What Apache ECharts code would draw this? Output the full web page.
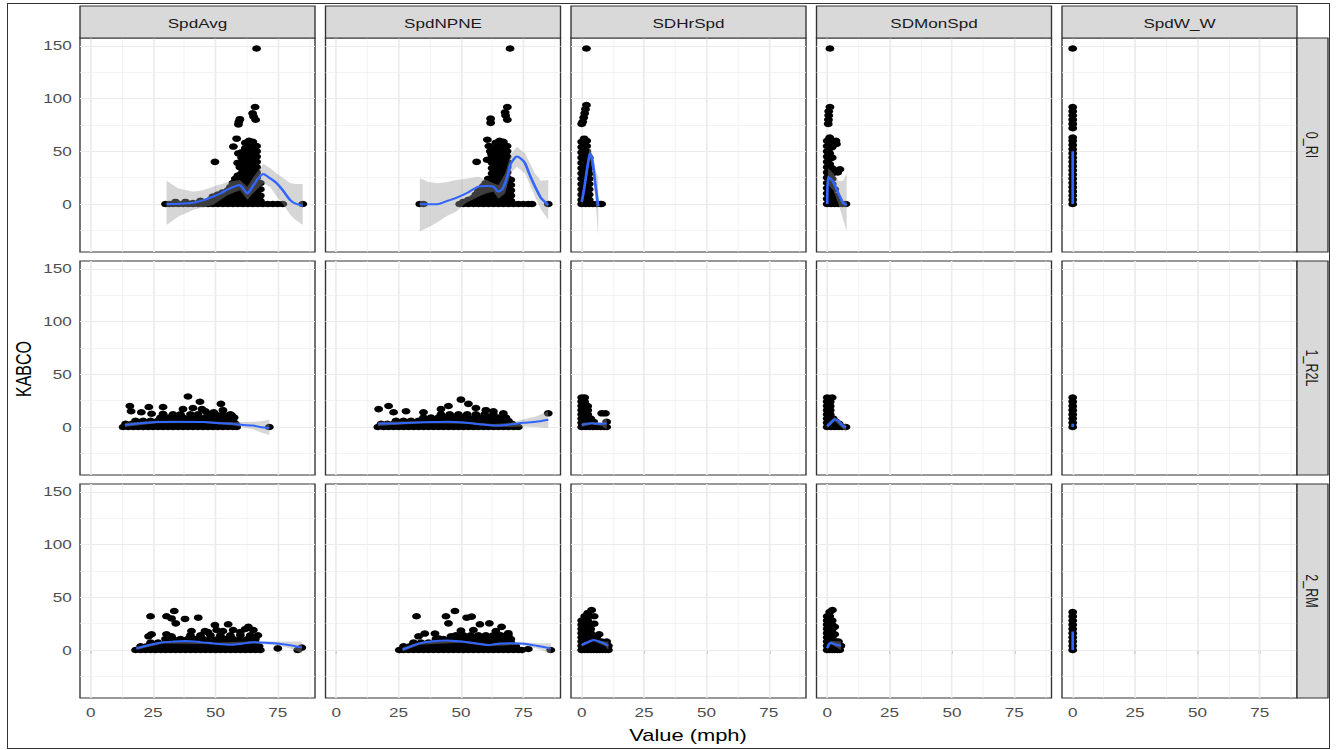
<!DOCTYPE html>
<html><head><meta charset="utf-8">
<script src="https://cdn.jsdelivr.net/npm/echarts@6/dist/echarts.min.js"></script>
<style>
html,body{margin:0;padding:0;background:#fff;}
#wrap{position:relative;width:1341px;height:750px;overflow:hidden;background:#fff}
#chart{position:absolute;left:0;top:0;width:980px;height:750px;transform:scaleX(1.368367);transform-origin:0 0;}
#frame{position:absolute;left:7px;top:3px;width:1321px;height:744px;border:1px solid #333;pointer-events:none}
</style></head><body>
<div id="wrap"><div id="chart"></div><div id="frame"></div></div>
<script>
const colLabels = ['SpdAvg','SpdNPNE','SDHrSpd','SDMonSpd','SpdW_W'];
const rowLabels = ['0_RI','1_R2L','2_RM'];
const xTicks = [0,25,50,75];
const yTicks = [0,50,100,150];
const xMinor = [12.5,37.5,62.5,87.5];
const yMinor = [-25,25,75,125];
const xRange = [-4.3,89.9];
const yRange = [-45.5,157.5];

// ---------- row 0_RI ----------
const ri_SpdAvg_pts = [
[30,0],[31.5,0],[33,0],[35,0],[37,0],[39,0],[41,0],[43,0],[45,0],[47,0],[49,0],[51,0],[53,0],[55,0],[57,0],[59,0],[61,0],[63,0],[65,0],[67,0],[69,0],[71,0],[73,0],[75,0],[77,0],[85,0],
[34,2],[38,2],[41,1],[44,3],[46,2],[48,4],[49,7],[50,3],[51,9],[52,5],[53,11],[54,3],[54,8],[55,13],[55,5],[56,16],[56,9],[57,3],[57,12],[57,20],[58,7],[58,16],[58,24],[59,4],[59,11],[59,19],[59,27],
[60.5,4],[60.5,9],[60.5,14],[60.5,19],[60.5,24],[60.5,29],[60.5,34],[60.5,39],[60.5,44],[60.5,49],
[62,3],[62,8],[62,13],[62,18],[62,23],[62,28],[62,33],[62,38],[62,43],[62,48],[62,53],[62,58],
[63.5,5],[63.5,10],[63.5,15],[63.5,20],[63.5,25],[63.5,30],[63.5,35],[63.5,40],[63.5,45],[63.5,50],[63.5,55],[63.5,60],
[65,4],[65,9],[65,14],[65,19],[65,24],[65,29],[65,34],[65,39],[65,44],[65,49],[65,54],[65,59],
[66.5,5],[66.5,10],[66.5,15],[66.5,20],[66.5,25],[66.5,30],[66.5,35],[66.5,40],[66.5,45],[66.5,50],[66.5,55],
[68,3],[68,8],[68,14],[68,20],
[57.2,54.5],[58.5,62],[59.2,48],[59.8,35],[58.9,39],[49.8,40],
[66.5,147.5],[65.9,92],[64.9,86],[65.3,83],[66.1,80],[59.8,80.5],[59.4,78],[59.2,75.5]
];
const ri_SpdAvg_fit = [[30.4,0],[35,0.3],[41,1.2],[45,3.5],[49,7],[52,10],[55,14],[58,17],[59.8,18],[61,15],[62.8,10],[65,17],[67,24],[69.2,28.5],[71,26],[72.8,23],[74.6,19.6],[77,13],[79.9,3.8],[82,0.5],[85,-1.6]];
const ri_SpdAvg_band = [[30.4,-20,22],[35,-12,15],[41,-5.7,11.7],[45,-3,13],[49,-1,16.5],[55,8.5,21],[59.8,13,22.8],[62.8,4,16.5],[65,10,25],[69.2,19.6,38],[72,16,34],[74.6,7,29],[77,0,25],[79.9,-10,20],[82,-15,19],[85,-20,19]];

const ri_SpdNPNE_pts = [
[33.5,0],[35,0],[49.5,0],[51,0],[53,0],[55,0],[57,0],[59,0],[61,0],[63,0],[65,0],[67,0],[69,0],[71,0],[73,0],[75,0],[77,0],[78.5,0],[85,0],
[51,2],[53,4],[54,2],[55,6],[56,3],[56,9],[57,5],[57,12],[58,2],[58,8],[58,14],[59,5],[59,11],[59,17],[60,3],[60,8],[60,14],[60,20],[61,6],[61,12],[61,18],[61,24],
[62.5,4],[62.5,9],[62.5,14],[62.5,19],[62.5,24],[62.5,29],[62.5,34],[62.5,39],[62.5,44],
[64,3],[64,8],[64,13],[64,18],[64,23],[64,28],[64,33],[64,38],[64,43],[64,48],[64,53],[64,58],
[65.5,5],[65.5,10],[65.5,15],[65.5,20],[65.5,25],[65.5,30],[65.5,35],[65.5,40],[65.5,45],[65.5,50],[65.5,55],[65.5,60],
[67,4],[67,9],[67,14],[67,19],[67,24],[67,29],[67,34],[67,39],[67,44],[67,49],[67,54],[67,59],
[68.5,5],[68.5,10],[68.5,15],[68.5,20],[68.5,25],[68.5,30],[68.5,35],[68.5,40],[68.5,45],[68.5,50],[68.5,55],
[70,3],[70,8],[70,13],[70,18],[70,23],
[60.6,61],[61.2,55],[62.3,47],[61.8,50],[56.3,40],[60.5,42],
[69.7,147.5],[68.6,92],[67.7,87],[67.9,84],[68.6,80],[61.9,81],[61.9,77]
];
const ri_SpdNPNE_fit = [[33.5,0],[37,-0.3],[40.9,0],[44,2.5],[47.6,5.4],[52,10],[57,16.5],[60,17],[63,16.5],[65,11.7],[66.5,14],[67.7,19.6],[69,30],[70,38.6],[72.4,45],[74,43],[75.7,38.6],[77.5,28],[79.7,16.5],[82,6],[85,-1]];
const ri_SpdNPNE_band = [[33.5,-26,24.4],[37,-22,21],[40.9,-16.8,19.6],[44.5,-11,21],[48,-7.3,22.8],[52,1,24],[57,7,26],[60,10,23],[63,11.7,19.6],[65,5,18],[67.7,10,29],[70,30,47],[72.4,35.4,54.4],[75.7,29,48],[79.7,7,29],[82,-5,22],[85,-15,22.8]];

const ri_SDHrSpd_pts = [
[0,0],[1.5,0],[3,0],[4.5,0],[6,0],[7.5,0],[8,0],
[0,4],[0,9],[0,14],[0,19],[0,24],[0,29],[0,34],[0,39],[0,44],[0,49],[0,54],[0,59],
[1,3],[1,8],[1,13],[1,18],[1,23],[1,28],[1,33],[1,38],[1,43],[1,48],[1,53],[1,58],[1,62],
[2,5],[2,10],[2,15],[2,20],[2,25],[2,30],[2,35],[2,40],[2,45],[2,50],[2,55],[2,60],
[3,4],[3,9],[3,14],[3,19],[3,24],[3,29],[3,34],[3,39],[3,44],
[1.9,147.5],[1.9,94],[1.5,90],[1.2,86],[0.8,82],[0.4,78],[0,76]
];
const ri_SDHrSpd_fit = [[0,2],[1,15],[2,31],[3,45],[3.5,48],[4.5,38],[5.5,18],[6.6,-2]];
const ri_SDHrSpd_band = [[0,-3,6],[1,10,20],[2,25,37],[3,40,52],[3.5,42,55],[4.5,28,46],[5.5,5,32],[6.6,-31,26]];

const ri_SDMonSpd_pts = [
[0,0],[1.5,0],[3,0],[4.5,0],[6,0],[7.5,0],
[0,5],[0,10],[0,15],[0,20],[0,25],[0,30],[0,35],[0,40],[0,45],[0,50],[0,55],[0,60],
[1,3],[1,8],[1,13],[1,18],[1,23],[1,28],[1,33],[1,38],[1,43],[1,48],[1,53],[1,58],[1,63],
[2,4],[2,9],[2,14],[2,19],[2,24],[2,29],[2,34],[2,44],[2,54],[2,59],
[3,3],[3,8],[3,14],[3.5,60],[3.7,57],[5.1,33],[4.2,30],[4,5],
[1.1,147.5],[1.1,92],[0.6,88],[0.6,84],[0.5,80],[0.4,76]
];
const ri_SDMonSpd_fit = [[0,0],[0.4,26],[2.4,21],[4.5,10],[6.4,1],[7.8,-1]];
const ri_SDMonSpd_band = [[0,-5,6],[0.4,18,34],[2.4,13,29],[4.5,0,22],[6.4,-15,22],[7.8,-26,29]];

const ri_SpdW_W_pts = [
[0,0],[0,4],[0,8],[0,12],[0,16],[0,20],[0,24],[0,28],[0,32],[0,36],[0,40],[0,44],[0,48],[0,52],[0,56],[0,60],[0,63],
[0,72],[0,76],[0,80],[0,84],[0,88],[0,92],[0,147.5]
];
const ri_SpdW_W_fit = [[0,0],[0,50]];
const ri_SpdW_W_band = [];

// ---------- row 1_R2L ----------
const r2l_SpdAvg_pts = [
[13,0],[15,0],[17,0],[19,0],[21,0],[23,0],[25,0],[27,0],[29,0],[31,0],[33,0],[35,0],[37,0],[39,0],[41,0],[43,0],[45,0],[47,0],[49,0],[51,0],[53,0],[55,0],[57,0],[58.5,0],[71.6,0],
[14,3],[16.5,3],[19,3],[21.5,3],[24,3],[26.5,3],[29,3],[31.5,3],[34,3],[36.5,3],[39,3],[41.5,3],[44,3],[46.5,3],[49,3],[51.5,3],[54,3],[56.5,3],[58,3],
[18,6],[21,6],[24,6],[27,6],[30,6],[33,6],[36,6],[39,6],[42,6],[45,6],[48,6],[51,6],[54,6],[57,6],
[28,9],[31,9],[34,9],[37,9],[40,9],[43,9],[46,9],[49,9],[52,9],[55,9],[57.5,9],
[33,12],[36,12],[40,12],[43,12],[47,12],[50,12],[53,12],[56,12],
[15.7,20],[16.2,15],[20.3,14],[23.3,19],[24.4,12.6],[29,19],[29,12.6],[37,17],[39,29],[41,18],[43.8,24],[44.6,17],[52.2,22],[53,16],[49.3,14],[46,15],[56.5,11]
];
const r2l_SpdAvg_fit = [[13.7,2],[20,3.5],[26.4,4.7],[35,5],[45.4,4.7],[52,3.5],[57.2,3],[61,2],[65.2,1.4],[68,0],[71.6,-1]];
const r2l_SpdAvg_band = [[13.7,0,4],[26.4,3.5,6],[45.4,3.8,5.6],[57.2,1.5,4.5],[65.2,-2,5],[68,-5,5.5],[71.6,-7.5,7]];

const r2l_SpdNPNE_pts = [
[16.7,0],[19,0],[21,0],[23,0],[25,0],[27,0],[29,0],[31,0],[33,0],[35,0],[37,0],[39,0],[41,0],[43,0],[45,0],[47,0],[49,0],[51,0],[53,0],[55,0],[57,0],[59,0],[61,0],[63,0],[65,0],[67,0],[69,0],[71,0],[73,0],
[18,3],[20.5,3],[23,3],[25.5,3],[28,3],[30.5,3],[33,3],[35.5,3],[38,3],[40.5,3],[43,3],[45.5,3],[48,3],[50.5,3],[53,3],[55.5,3],[58,3],[60.5,3],[63,3],[65.5,3],[68,3],[70.5,3],
[24,6],[27,6],[30,6],[33,6],[36,6],[39,6],[42,6],[45,6],[48,6],[51,6],[54,6],[57,6],[60,6],[63,6],[66,6],[69,6],
[35,9],[38,9],[41,9],[44,9],[47,9],[50,9],[53,9],[56,9],[59,9],[62,9],[65,9],[68,9],
[42,12],[45.5,12],[49,12],[52.5,12],[56,12],[59.5,12],[63,12],
[17,17],[21,20],[23,14],[28,15],[35,14],[42,17],[45,20],[50,26],[53,22],[56,18],[60,16],[63,15],[67,13],[85,13]
];
const r2l_SpdNPNE_fit = [[16.7,3],[25,3.5],[35,4.5],[45,5],[52,4],[58,2.5],[63,1.5],[68,2],[75,4],[80,5],[85,7]];
const r2l_SpdNPNE_band = [[16.7,1,5],[35,3.5,5.5],[52,3,5],[63,0.5,2.8],[70,0,4],[75,0.5,7.5],[80,0,10],[85,-1,15]];

const r2l_SDHrSpd_pts = [
[0,0],[1.5,0],[3,0],[4.5,0],[6,0],[7.5,0],[9,0],[10,0],
[0,4],[0,8],[0,12],[0,16],[0,20],[0,24],[0,28],
[1.2,4],[1.2,8],[1.2,12],[1.2,16],[1.2,20],[1.2,24],[1.2,28],
[2.4,4],[2.4,8],[2.4,12],[2.4,16],[2.4,20],
[3.6,8],[4.8,5],[8,13],[9.5,13],[10,5]
];
const r2l_SDHrSpd_fit = [[0,2],[2,3],[4,3.5],[6,3],[8,3],[10,3.5]];
const r2l_SDHrSpd_band = [[0,0,4],[4,2.5,4.5],[8,1,5],[10,-2,9]];

const r2l_SDMonSpd_pts = [
[0,0],[1.5,0],[3,0],[4.5,0],[6,0],[7.5,0],
[0,4],[0,8],[0,12],[0,16],[0,20],[0,24],[0,28],
[1.2,4],[1.2,8],[1.2,12],[1.2,16],[1.2,20],[1.2,24],
[2.4,4],[2.4,8],[3.6,5],[4.8,3],[2,28]
];
const r2l_SDMonSpd_fit = [[0,1],[1.5,4],[3,7.5],[4.5,6],[6,1.5],[7.5,-0.5]];
const r2l_SDMonSpd_band = [[0,-1,3],[3,5.5,9.5],[6,-1,4],[7.5,-5,4]];

const r2l_SpdW_W_pts = [[0,0],[0,4],[0,8],[0,12],[0,16],[0,20],[0,24],[0,28]];
const r2l_SpdW_W_fit = [[0,0],[0,3]];
const r2l_SpdW_W_band = [];

// ---------- row 2_RM ----------
const rm_SpdAvg_pts = [
[18,0],[20,0],[22,0],[24,0],[26,0],[28,0],[30,0],[32,0],[34,0],[36,0],[38,0],[40,0],[42,0],[44,0],[46,0],[48,0],[50,0],[52,0],[54,0],[56,0],[58,0],[60,0],[62,0],[64,0],[66,0],[68,0],[75,1.6],[83,0],[84.6,2.3],
[20,3.5],[22.5,3.5],[25,3.5],[27.5,3.5],[30,3.5],[32.5,3.5],[35,3.5],[37.5,3.5],[40,3.5],[42.5,3.5],[45,3.5],[47.5,3.5],[50,3.5],[52.5,3.5],[55,3.5],[57.5,3.5],[60,3.5],[62.5,3.5],[65,3.5],[67.5,3.5],
[24,7],[27,7],[30,7],[33,7],[36,7],[39,7],[42,7],[45,7],[48,7],[51,7],[54,7],[57,7],[60,7],[63,7],[66,7],
[30,10.5],[33,10.5],[36,10.5],[39,10.5],[42,10.5],[45,10.5],[48,10.5],[51,10.5],[54,10.5],[57,10.5],[60,10.5],[63,10.5],[66,10.5],
[40,14],[44,14],[48,14],[52,14],[56,14],[60,14],[64,14],[67,14],
[24,32],[24.4,15],[23.2,13],[30.4,32],[32.4,30],[33.5,37],[34.1,25.3],[37.8,29.5],[43.1,30.7],[40.4,18],[45.8,18],[49.8,23.7],[50.5,19],[55.1,24.4],[57.1,19],[63.2,22],[65.2,19],[30.4,15],[32.4,13],[47,17],[53,18],[60,17],[62,20]
];
const rm_SpdAvg_fit = [[18.3,1.6],[23,4.5],[29,7.3],[33,8],[37.8,8.5],[44,7.5],[49,6.3],[55.8,5],[60,5.8],[65.2,7.3],[70,7],[74.6,6.3],[80,4.5],[84.6,2.3]];
const rm_SpdAvg_band = [[18.3,0,3],[29,6.3,8.3],[49,5.5,7],[65.2,6.3,8.3],[74.6,4.5,8],[80,1.5,8],[84.6,-3,8]];

const rm_SpdNPNE_pts = [
[25.3,0],[27,0],[29,0],[31,0],[33,0],[35,0],[37,0],[39,0],[41,0],[43,0],[45,0],[47,0],[49,0],[51,0],[53,0],[55,0],[57,0],[59,0],[61,0],[63,0],[65,0],[67,0],[69,0],[71,0],[73,0],[74.4,0],[77,1],[86,0],
[27,3.5],[29.5,3.5],[32,3.5],[34.5,3.5],[37,3.5],[39.5,3.5],[42,3.5],[44.5,3.5],[47,3.5],[49.5,3.5],[52,3.5],[54.5,3.5],[57,3.5],[59.5,3.5],[62,3.5],[64.5,3.5],[67,3.5],[69.5,3.5],[72,3.5],
[31,7],[34,7],[37,7],[40,7],[43,7],[46,7],[49,7],[52,7],[55,7],[58,7],[61,7],[64,7],[67,7],[70,7],
[40,10.5],[43,10.5],[46,10.5],[49,10.5],[52,10.5],[55,10.5],[58,10.5],[61,10.5],[64,10.5],[67,10.5],[70,10.5],
[48,14],[51,14],[54,14],[57,14],[60,14],[63,14],[66,14],[69,14],
[32.2,32],[44,32],[45,25.3],[47.6,37],[52.3,30.7],[54.3,31.7],[35.5,15.6],[39.6,15.6],[33,13],[41,11],[50,18.4],[57.6,24.4],[61.4,25.3],[66.3,22],[46,13],[55,19],[64,18],[69,16]
];
const rm_SpdNPNE_fit = [[26.6,0.5],[30,3.5],[33.5,6.3],[38,8],[44.3,9],[50,8],[56.2,6.3],[61,4.7],[65.5,6.3],[70,6.5],[73.7,6.3],[77,5.5],[80.4,4],[86,1.6]];
const rm_SpdNPNE_band = [[26.6,-1.5,2.5],[33.5,5,7.5],[50,7,9],[61,3.7,5.7],[73.7,5,7.5],[80.4,1.5,6.5],[86,-3,6.5]];

const rm_SDHrSpd_pts = [
[0,0],[0,4],[0,8],[0,12],[0,16],[0,20],[0,24],[0,28],
[1.2,0],[1.2,4],[1.2,8],[1.2,12],[1.2,16],[1.2,20],[1.2,24],[1.2,28],[1.2,32],
[2.4,0],[2.4,4],[2.4,8],[2.4,12],[2.4,16],[2.4,20],[2.4,24],[2.4,28],[2.4,32],[2.4,35],
[3.6,0],[3.6,4],[3.6,8],[3.6,12],[3.6,16],[3.6,20],[4,38],
[5,32],[5,25],[7,15],[6,12],
[4.8,0],[6,0],[7.2,0],[8.4,0],[9.6,0],[10.7,0],
[5,4],[6.5,4],[8,4],[9.5,4],[10.7,4],[6,8],[8,8],[10,8]
];
const rm_SDHrSpd_fit = [[0,4.7],[2,7],[4.7,9.5],[7,8],[9.4,5.7],[10.7,4]];
const rm_SDHrSpd_band = [[0,3,6.5],[4.7,8.5,10.5],[9.4,3.5,8],[10.7,0,8]];

const rm_SDMonSpd_pts = [
[0,0],[0,4],[0,8],[0,12],[0,16],[0,20],[0,24],[0,28],[0,32],
[1,0],[1,4],[1,8],[1,12],[1,16],[1,20],[1,24],[1,28],[1,32],[1,36],
[2,0],[2,4],[2,8],[2,12],[2,16],[2,20],[2,24],[2,28],[2.1,38],
[3,0],[4,0],[5,0],[5.5,4],[4.5,4],[3.5,8],[4.5,8],[3,15],[3,22]
];
const rm_SDMonSpd_fit = [[0,2],[0.8,6],[1.5,7],[3,5.5],[5.5,4]];
const rm_SDMonSpd_band = [[0,0,4],[1.5,5.5,8.5],[5.5,0,8]];

const rm_SpdW_W_pts = [[0,0],[0,4],[0,8],[0,12],[0,16],[0,20],[0,24],[0,28],[0,32],[0,36]];
const rm_SpdW_W_fit = [[0,0],[0,17.5]];
const rm_SpdW_W_band = [];

const panelPts = [
  [ri_SpdAvg_pts, ri_SpdNPNE_pts, ri_SDHrSpd_pts, ri_SDMonSpd_pts, ri_SpdW_W_pts],
  [r2l_SpdAvg_pts, r2l_SpdNPNE_pts, r2l_SDHrSpd_pts, r2l_SDMonSpd_pts, r2l_SpdW_W_pts],
  [rm_SpdAvg_pts, rm_SpdNPNE_pts, rm_SDHrSpd_pts, rm_SDMonSpd_pts, rm_SpdW_W_pts]
];
const panelFit = [
  [ri_SpdAvg_fit, ri_SpdNPNE_fit, ri_SDHrSpd_fit, ri_SDMonSpd_fit, ri_SpdW_W_fit],
  [r2l_SpdAvg_fit, r2l_SpdNPNE_fit, r2l_SDHrSpd_fit, r2l_SDMonSpd_fit, r2l_SpdW_W_fit],
  [rm_SpdAvg_fit, rm_SpdNPNE_fit, rm_SDHrSpd_fit, rm_SDMonSpd_fit, rm_SpdW_W_fit]
];
const panelBand = [
  [ri_SpdAvg_band, ri_SpdNPNE_band, ri_SDHrSpd_band, ri_SDMonSpd_band, ri_SpdW_W_band],
  [r2l_SpdAvg_band, r2l_SpdNPNE_band, r2l_SDHrSpd_band, r2l_SDMonSpd_band, r2l_SpdW_W_band],
  [rm_SpdAvg_band, rm_SpdNPNE_band, rm_SDHrSpd_band, rm_SDMonSpd_band, rm_SpdW_W_band]
];

const S = 1341/980;
const FONT = '"Liberation Sans", Arial, sans-serif';
const grids = [], xAxes = [], yAxes = [], series = [], graphics = [];
const colLeft = c => (80 + 245.5*c)/S;
const colW = 235/S;
const rowTop = r => 38 + 223*r;
const rowH = 214;

function bandRenderer(band) {
  return function (params, api) {
    if (params.dataIndex !== 0) return null;
    const upper = band.map(b => api.coord([b[0], b[2]]));
    const lower = band.map(b => api.coord([b[0], b[1]])).reverse();
    return {type: 'polygon', shape: {points: upper.concat(lower), smooth: 0},
      style: {fill: 'rgba(153,153,153,0.4)', stroke: 'none'}};
  };
}

for (let r = 0; r < 3; r++) {
  for (let c = 0; c < 5; c++) {
    const i = r*5 + c;
    grids.push({left: colLeft(c), top: rowTop(r), width: colW, height: rowH, show: true,
      backgroundColor: '#fff', borderColor: '#333', borderWidth: 1, containLabel: false, outerBoundsMode: 'none'});
    xAxes.push({gridIndex: i, type: 'value', min: xRange[0], max: xRange[1],
      axisLine: {show: false}, splitLine: {show: false},
      axisTick: {show: r === 2, customValues: xTicks, length: 4, lineStyle: {color: '#333', width: 1}},
      axisLabel: {show: r === 2, customValues: xTicks, color: '#4D4D4D', fontSize: 12.5, fontFamily: FONT, margin: 8}});
    yAxes.push({gridIndex: i, type: 'value', min: yRange[0], max: yRange[1],
      axisLine: {show: false}, splitLine: {show: false},
      axisTick: {show: c === 0, customValues: yTicks, length: 4, lineStyle: {color: '#333', width: 1}},
      axisLabel: {show: c === 0, customValues: yTicks, color: '#4D4D4D', fontSize: 12.5, fontFamily: FONT, margin: 6}});
    const ml = [];
    xMinor.forEach(v => ml.push({xAxis: v, lineStyle: {color: '#EEEEEE', width: 0.6, type: 'solid'}}));
    yMinor.forEach(v => ml.push({yAxis: v, lineStyle: {color: '#EEEEEE', width: 0.6, type: 'solid'}}));
    xTicks.forEach(v => ml.push({xAxis: v, lineStyle: {color: '#EBEBEB', width: 1.2, type: 'solid'}}));
    yTicks.forEach(v => ml.push({yAxis: v, lineStyle: {color: '#EBEBEB', width: 1.2, type: 'solid'}}));
    series.push({type: 'scatter', xAxisIndex: i, yAxisIndex: i, data: [], silent: true, z: 1,
      markLine: {silent: true, symbol: ['none','none'], z: 1, animation: false, label: {show: false},
        emphasis: {disabled: true}, lineStyle: {type: 'solid'}, data: ml}});
    series.push({type: 'scatter', xAxisIndex: i, yAxisIndex: i, data: panelPts[r][c], symbol: 'circle',
      symbolSize: 6.5, itemStyle: {color: '#000', opacity: 1}, z: 2, silent: true});
    const band = panelBand[r][c];
    if (band.length) {
      series.push({type: 'custom', xAxisIndex: i, yAxisIndex: i, clip: true, silent: true, z: 3,
        data: [[band[0][0], band[0][1]]], renderItem: bandRenderer(band)});
    }
    series.push({type: 'line', xAxisIndex: i, yAxisIndex: i, data: panelFit[r][c], symbol: 'none', smooth: 0.2,
      lineStyle: {color: '#3366FF', width: 2}, z: 4, silent: true});
  }
}

// strips
for (let c = 0; c < 5; c++) {
  graphics.push({type: 'rect', silent: true, z: 10, shape: {x: colLeft(c), y: 6, width: colW, height: 32},
    style: {fill: '#D9D9D9', stroke: '#333', lineWidth: 1}});
  graphics.push({type: 'text', silent: true, z: 11, x: colLeft(c) + colW/2, y: 23,
    style: {text: colLabels[c], fill: '#1A1A1A', fontSize: 12.5, fontFamily: FONT, align: 'center', textAlign: 'center', verticalAlign: 'middle', textVerticalAlign: 'middle'}});
}
const stripX = 1297/S, stripW = 31/S;
for (let r = 0; r < 3; r++) {
  graphics.push({type: 'rect', silent: true, z: 10, shape: {x: stripX, y: rowTop(r), width: stripW, height: rowH},
    style: {fill: '#D9D9D9', stroke: '#333', lineWidth: 1}});
  graphics.push({type: 'text', silent: true, z: 11, x: stripX + stripW/2, y: rowTop(r) + rowH/2, rotation: -Math.PI/2,
    style: {text: rowLabels[r], fill: '#1A1A1A', fontSize: 12.5, fontFamily: FONT, align: 'center', textAlign: 'center', verticalAlign: 'middle', textVerticalAlign: 'middle'}});
}
graphics.push({type: 'text', silent: true, z: 11, x: 688/S, y: 736,
  style: {text: 'Value (mph)', fill: '#000', fontSize: 16, fontFamily: FONT, align: 'center', textAlign: 'center', verticalAlign: 'middle', textVerticalAlign: 'middle'}});
graphics.push({type: 'text', silent: true, z: 11, x: 24/S, y: 369, rotation: Math.PI/2,
  style: {text: 'KABCO', fill: '#000', fontSize: 16, fontFamily: FONT, align: 'center', textAlign: 'center', verticalAlign: 'middle', textVerticalAlign: 'middle'}});

const chart = echarts.init(document.getElementById('chart'), null, {renderer: 'svg'});
chart.setOption({
  animation: false,
  backgroundColor: '#fff',
  grid: grids,
  xAxis: xAxes,
  yAxis: yAxes,
  series: series,
  graphic: {elements: graphics}
});
</script></body></html>
